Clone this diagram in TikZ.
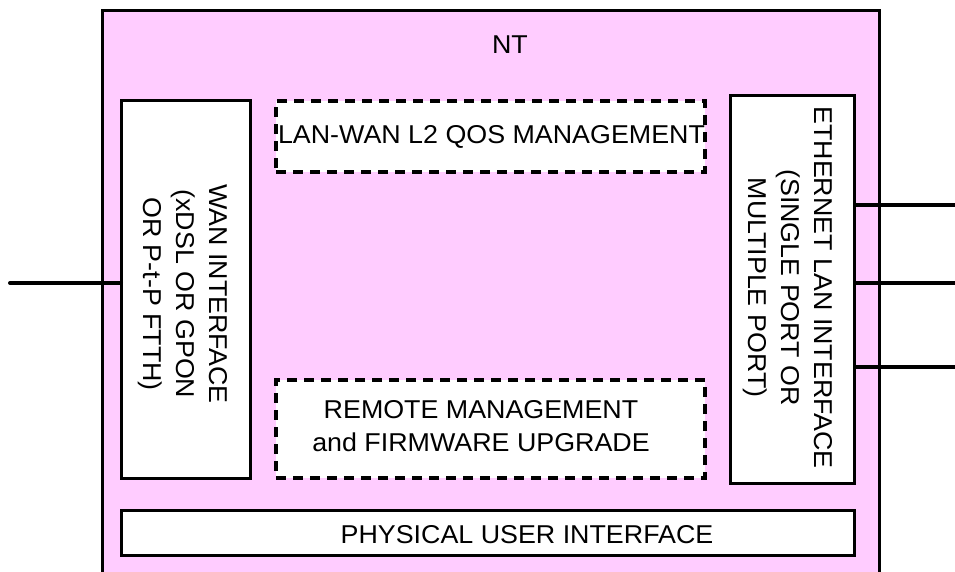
\documentclass[tikz,border=0pt]{standalone}
\usepackage{fontspec}
\setmainfont{Liberation Sans}[FakeStretch=1.04]
\definecolor{ntpink}{HTML}{FFCCFF}
\begin{document}
\begin{tikzpicture}[x=1pt,y=-1pt,
  box/.style={draw=black,fill=white,line width=3pt,inner sep=0pt,outer sep=0pt},
  dbox/.style={draw=black,fill=white,line width=4pt,dash pattern=on 10pt off 7pt,inner sep=0pt,outer sep=0pt},
  txt/.style={font=\fontsize{25.8}{33}\selectfont,align=center,inner sep=0pt},
  wire/.style={line width=4pt}]
\useasboundingbox (0,0) rectangle (955,571);
\fill[white] (0,0) rectangle (955,571);
% outer NT box
\fill[ntpink] (102,10) rectangle (879,575);
\draw[line width=3pt] (102,575) -- (102,10) -- (879,10) -- (879,575);
\node[txt] (nt) at (510,45) {NT};
% boxes
\node[box,minimum width=129pt,minimum height=378pt] (wan) at (185.5,289) {};
\node[txt,rotate=-90] (wantxt) at (183,294) {WAN INTERFACE\\(xDSL OR GPON\\OR P-t-P FTTH)};
\node[dbox,minimum width=429pt,minimum height=71pt] (qos) at (490.5,136.5) {};
\node[txt] (qostxt) at (491.5,137) {LAN-WAN L2 QOS MANAGEMENT};
\node[dbox,minimum width=429pt,minimum height=98pt] (rem) at (490.5,429) {};
\node[txt] (remtxt) at (481,426) {REMOTE MANAGEMENT\\and FIRMWARE UPGRADE};
\node[box,minimum width=124pt,minimum height=388pt] (eth) at (792,289) {};
\node[txt,rotate=-90] (ethtxt) at (788,287.5) {ETHERNET LAN INTERFACE\\(SINGLE PORT OR\\MULTIPLE PORT)};
\node[box,minimum width=733pt,minimum height=45pt] (phy) at (487.5,532.5) {};
\node[txt] (phytxt) at (527,535) {PHYSICAL USER INTERFACE};
% wires
\coordinate (lin) at (10,283);
\draw[wire,line cap=round] (lin) -- (lin -| wan.west);
\coordinate (r1) at (957,205);
\coordinate (r2) at (957,283);
\coordinate (r3) at (957,367);
\draw[wire] (eth.east |- r1) -- (r1);
\draw[wire] (eth.east |- r2) -- (r2);
\draw[wire] (eth.east |- r3) -- (r3);
\end{tikzpicture}
\end{document}
